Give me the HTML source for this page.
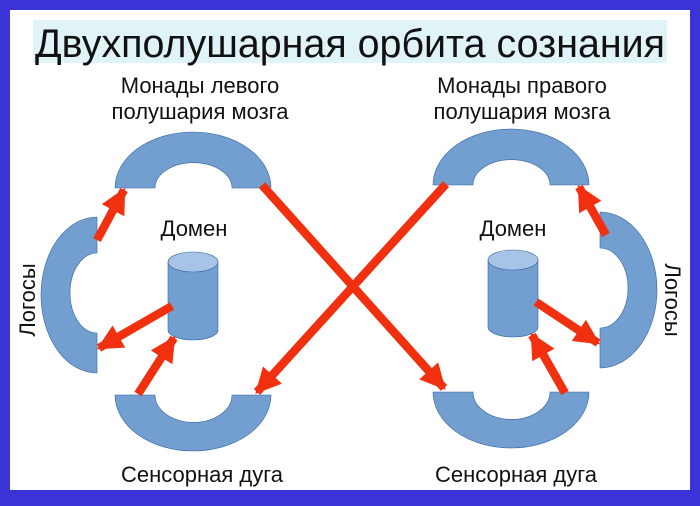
<!DOCTYPE html>
<html><head><meta charset="utf-8"><style>
html,body{margin:0;padding:0;background:#3a33d6;}
svg{display:block}
text{font-family:"Liberation Sans","DejaVu Sans",sans-serif;fill:#111}
</style></head><body>
<svg width="700" height="506" viewBox="0 0 700 506" xmlns="http://www.w3.org/2000/svg">
<defs>
<marker id="ah" viewBox="0 0 10 10" refX="9" refY="5" markerWidth="3.2" markerHeight="3" markerUnits="strokeWidth" orient="auto">
<path d="M0,0 L10,5 L0,10 z" fill="#f0300f"/>
</marker>
</defs>
<rect x="0" y="0" width="700" height="506" fill="#3a33d6"/>
<rect x="10" y="10" width="680" height="480" fill="#ffffff"/>
<rect x="33" y="20" width="634" height="43" fill="#e0f4f8"/>
<text x="350" y="57" font-size="39.5" text-anchor="middle" textLength="630" lengthAdjust="spacingAndGlyphs">Двухполушарная орбита сознания</text>

<text x="200" y="93" font-size="22" text-anchor="middle">Монады левого</text>
<text x="200" y="119" font-size="22" text-anchor="middle">полушария мозга</text>
<text x="522" y="93" font-size="22" text-anchor="middle">Монады правого</text>
<text x="522" y="119" font-size="22" text-anchor="middle">полушария мозга</text>
<text x="194" y="236" font-size="22" text-anchor="middle">Домен</text>
<text x="513" y="236" font-size="22" text-anchor="middle">Домен</text>
<text x="202" y="482" font-size="22" text-anchor="middle">Сенсорная дуга</text>
<text x="516" y="482" font-size="22" text-anchor="middle">Сенсорная дуга</text>
<text transform="translate(35,300) rotate(-90)" font-size="22" text-anchor="middle">Логосы</text>
<text transform="translate(665,300) rotate(90)" font-size="22" text-anchor="middle">Логосы</text>

<g fill="#729fcf" stroke="#3465a4" stroke-width="0.6">
<path d="M115,188 A78,56 0 0 1 271,188 L232,188 A38,25 0 0 0 155,188 Z"/>
<path d="M433,185 A78,56 0 0 1 589,185 L550,185 A38,25 0 0 0 473,185 Z"/>
<path d="M115,395 A78,56 0 0 0 271,395 L232,395 A38,27 0 0 1 155,395 Z"/>
<path d="M433,392 A78,56 0 0 0 589,392 L550,392 A38,27 0 0 1 473,392 Z"/>
<path d="M97,217 A56,78 0 0 0 97,373 L97,333 A27,40 0 0 1 97,253 Z"/>
<path d="M600,212 A57,78 0 0 1 600,368 L600,328 A28,40 0 0 0 600,248 Z"/>
<path d="M168,262 L168,330 A25,10 0 0 0 218,330 L218,262 Z"/>
<ellipse cx="193" cy="262" rx="25" ry="10" fill="#a7c4e6"/>
<path d="M488,260 L488,327 A25,10 0 0 0 538,327 L538,260 Z"/>
<ellipse cx="513" cy="260" rx="25" ry="10" fill="#a7c4e6"/>
</g>

<g stroke="#f0300f" stroke-width="8.5" fill="none" marker-end="url(#ah)">
<line x1="97" y1="240" x2="124" y2="190"/>
<line x1="172" y1="306" x2="99" y2="348"/>
<line x1="138" y1="394" x2="174" y2="338"/>
<line x1="262" y1="185" x2="444" y2="388"/>
<line x1="446" y1="184" x2="257" y2="392"/>
<line x1="606" y1="235" x2="579" y2="187"/>
<line x1="536" y1="302" x2="598" y2="343"/>
<line x1="565" y1="393" x2="532" y2="335"/>
</g>
</svg>
</body></html>
